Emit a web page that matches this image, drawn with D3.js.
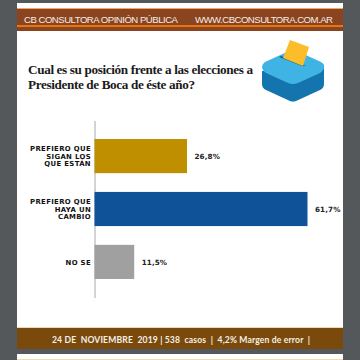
<!DOCTYPE html>
<html>
<head>
<meta charset="utf-8">
<script src="https://cdn.jsdelivr.net/npm/d3@7"></script>
<style>
html,body{margin:0;padding:0;background:#55585a;}
svg{display:block;}
</style>
</head>
<body>
<div id="chart-area"></div>
<script>
var categories = ["PREFIERO QUE|SIGAN LOS|QUE ESTÁN", "PREFIERO QUE|HAYA UN|CAMBIO", "NO SE"];
var values = [26.8, 61.7, 11.5];
var valueLabels = ["26,8%", "61,7%", "11,5%"];
var barColors = ["#bf8f00", "#0f5298", "#a0a0a0"];

var svg = d3.select("#chart-area").append("svg")
	.attr("width", 360)
	.attr("height", 360);

// page + bands
svg.append("rect").attr("width", 360).attr("height", 360).attr("fill", "#55585a");
svg.append("rect").attr("x", 17).attr("y", 3).attr("width", 326).attr("height", 345).attr("fill", "#ffffff");
svg.append("rect").attr("x", 17).attr("y", 354).attr("width", 326).attr("height", 6).attr("fill", "#ffffff");
svg.append("rect").attr("x", 17).attr("y", 359).attr("width", 326).attr("height", 1).attr("fill", "#f3d9b0");

svg.append("rect").attr("x", 17).attr("y", 8).attr("width", 326).attr("height", 23).attr("fill", "#8a4520");
svg.append("rect").attr("x", 17).attr("y", 8).attr("width", 326).attr("height", 1).attr("fill", "#f0a860");
svg.append("rect").attr("x", 17).attr("y", 25).attr("width", 326).attr("height", 2).attr("fill", "#e8760c");

svg.append("text").attr("x", 24).attr("y", 22.5)
	.attr("font-family", "Liberation Sans").attr("font-size", 9.6)
	.attr("fill", "#f6ece4").attr("textLength", 154).text("CB CONSULTORA OPINIÓN PÚBLICA");
svg.append("text").attr("x", 195).attr("y", 22.5)
	.attr("font-family", "Liberation Sans").attr("font-size", 9.6)
	.attr("fill", "#f6ece4").attr("textLength", 138).text("WWW.CBCONSULTORA.COM.AR");

svg.append("rect").attr("x", 17).attr("y", 328).attr("width", 326).attr("height", 21).attr("fill", "#7a4a0c");
svg.append("rect").attr("x", 17).attr("y", 327).attr("width", 326).attr("height", 1).attr("fill", "#f3d9b0");
svg.append("text").attr("x", 52).attr("y", 343)
	.attr("font-family", "Lato").attr("font-weight", "bold").attr("font-size", 8.6)
	.attr("fill", "#f5efe6").attr("textLength", 258).attr("xml:space", "preserve")
	.text("24 DE  NOVIEMBRE  2019 | 538  casos  |  4,2% Margen de error  |");

// title
svg.append("text").attr("x", 28).attr("y", 74)
	.attr("font-family", "Liberation Serif").attr("font-weight", "bold").attr("font-size", 13.2)
	.attr("fill", "#1a1a1a").attr("textLength", 225).text("Cual es su posición frente a las elecciones a");
svg.append("text").attr("x", 28).attr("y", 89)
	.attr("font-family", "Liberation Serif").attr("font-weight", "bold").attr("font-size", 13.2)
	.attr("fill", "#1a1a1a").attr("textLength", 167).text("Presidente de Boca de éste año?");

// ballot box
var icon = svg.append("g");
icon.append("path").attr("d", "M262 71 L262 84 Q262 88 266 90 L290 101 Q293 102 296 101 L320 90 Q324 88 324 84 L324 68 Z").attr("fill", "#1474ad");
icon.append("path").attr("d", "M265 62 L287 52 Q293 50 299 52 L321 62 Q325 64 324 68 Q323 71 320 73 L298 83 Q293 85 288 83 L266 73 Q263 71 262 68 Q262 64 265 62 Z").attr("fill", "#3fb3e3");
icon.append("path").attr("d", "M281 56 L306 66 L302 66 L279 57 Z").attr("fill", "#14628f");
icon.append("path").attr("d", "M290 40 L309 47 L303 66 L283 58 Z").attr("fill", "#fbbd2a");

// chart
var x = d3.scaleLinear()
	.domain([0, 61.7])
	.range([94.5, 307.5]);

var y = d3.scaleBand()
	.domain(categories)
	.range([120.5, 297.5])
	.paddingInner(0.355)
	.paddingOuter(0.35);

var yAxis = d3.axisLeft(y).tickSize(0).tickFormat("");
var axisG = svg.append("g")
	.attr("transform", "translate(94.5,0)")
	.call(yAxis);
axisG.select(".domain").attr("stroke", "#a8a8a8").attr("stroke-width", 1);

svg.selectAll("rect.bar").data(values).enter()
	.append("rect")
		.attr("class", "bar")
		.attr("x", x(0))
		.attr("y", (d, i)=>{ return y(categories[i]); })
		.attr("width", (d)=>{ return x(d) - x(0); })
		.attr("height", y.bandwidth())
		.attr("fill", (d, i)=>{ return barColors[i]; });

svg.selectAll("text.val").data(values).enter()
	.append("text")
		.attr("class", "val")
		.attr("x", (d)=>{ return x(d) + 7.5; })
		.attr("y", (d, i)=>{ return y(categories[i]) + y.bandwidth() / 2 + 3; })
		.attr("font-family", "DejaVu Sans").attr("font-weight", "bold").attr("font-size", 7.2)
		.attr("letter-spacing", 0.1)
		.attr("fill", "#222")
		.text((d, i)=>{ return valueLabels[i]; });

categories.forEach((c)=>{
	var lines = c.split("|");
	var mid = y(c) + y.bandwidth() / 2;
	lines.forEach((l, j)=>{
		svg.append("text")
			.attr("x", 91)
			.attr("y", mid + (j - (lines.length - 1) / 2) * 7.6 + 2.6)
			.attr("text-anchor", "end")
			.attr("font-family", "DejaVu Sans").attr("font-weight", "bold").attr("font-size", 6.9)
			.attr("letter-spacing", 0.35)
			.attr("fill", "#111")
			.text(l);
	});
});
</script>
</body>
</html>
